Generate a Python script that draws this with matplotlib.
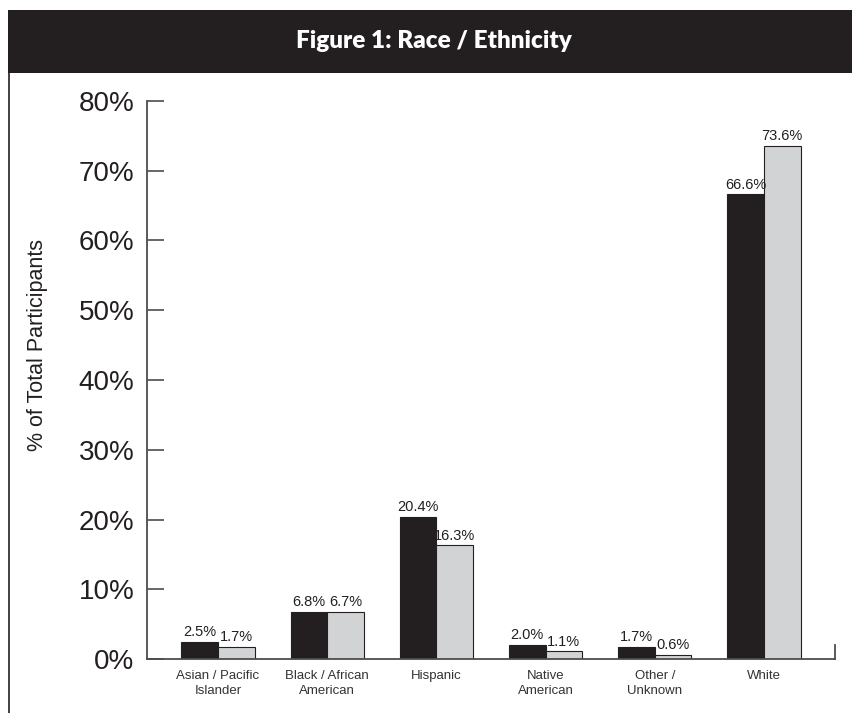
import matplotlib
matplotlib.use("Agg")
import matplotlib.pyplot as plt
from matplotlib.lines import Line2D
from matplotlib.patches import Rectangle
import numpy as np

categories = ["Asian / Pacific\nIslander", "Black / African\nAmerican", "Hispanic",
              "Native\nAmerican", "Other /\nUnknown", "White"]
series_a = [2.5, 6.8, 20.4, 2.0, 1.7, 66.6]
series_b = [1.7, 6.7, 16.3, 1.1, 0.6, 73.6]
y_ticks = [0, 10, 20, 30, 40, 50, 60, 70, 80]

DARK = "#231f20"
GREY = "#d1d3d4"
AXIS = "#4d4d4f"

plt.rcParams["font.family"] = ["Liberation Sans", "DejaVu Sans"]

W, H = 852, 713
fig = plt.figure(figsize=(W / 100, H / 100), dpi=100)
fig.patch.set_facecolor("white")

# header band
fig.patches.append(Rectangle((8 / W, 1 - 73 / H), 1 - 8 / W, 63 / H,
                             transform=fig.transFigure, facecolor=DARK,
                             edgecolor="none", zorder=0))
fig.text(434 / W, 1 - 41 / H, "Figure 1: Race / Ethnicity", color="white",
         fontsize=17.5, fontweight="heavy", family=["Lato", "DejaVu Sans"],
         ha="center", va="center")
# left frame rule
fig.lines.append(Line2D([8.5 / W, 8.5 / W], [0, 1 - 73 / H],
                        transform=fig.transFigure, color=DARK, lw=1.2))

ax = fig.add_axes([147 / W, 54 / H, (835 - 147) / W, (659 - 101) / H])
x = np.arange(len(categories))
bw = 0.335
bars_a = ax.bar(x - bw / 2, series_a, width=bw, color=DARK, edgecolor=DARK,
                linewidth=0.8)
bars_b = ax.bar(x + bw / 2, series_b, width=bw, color=GREY, edgecolor=DARK,
                linewidth=0.8)

for bars, vals in ((bars_a, series_a), (bars_b, series_b)):
    for b, v in zip(bars, vals):
        ax.annotate(f"{v:.1f}%", (b.get_x() + b.get_width() / 2, v),
                    xytext=(0, 2), textcoords="offset points",
                    ha="center", va="bottom", fontsize=10.5, color=DARK)

ax.set_xlim(-0.65, len(categories) - 1 + 0.65)
ax.set_ylim(0, 80)
ax.set_yticks(y_ticks)
ax.set_yticklabels([f"{t}%" for t in y_ticks])
ax.tick_params(axis="y", direction="in", length=12, width=1.2, color=AXIS,
               labelsize=20, labelcolor=DARK, pad=9)
ax.set_xticks(x)
ax.set_xticklabels(categories, fontsize=9.5, color="#333333", linespacing=1.3)
ax.tick_params(axis="x", length=0, pad=8)

for s in ("top", "right"):
    ax.spines[s].set_visible(False)
for s in ("left", "bottom"):
    ax.spines[s].set_color(AXIS)
    ax.spines[s].set_linewidth(1.3)
ax.plot([1, 1], [0, 0.025], transform=ax.transAxes, color=AXIS, lw=1.3,
        clip_on=False)

fig.text(38 / W, 1 - 345 / H, "% of Total Participants", rotation=90,
         fontsize=15.5, color=DARK, ha="center", va="center")

fig.savefig("out.png", dpi=100, facecolor="white")
